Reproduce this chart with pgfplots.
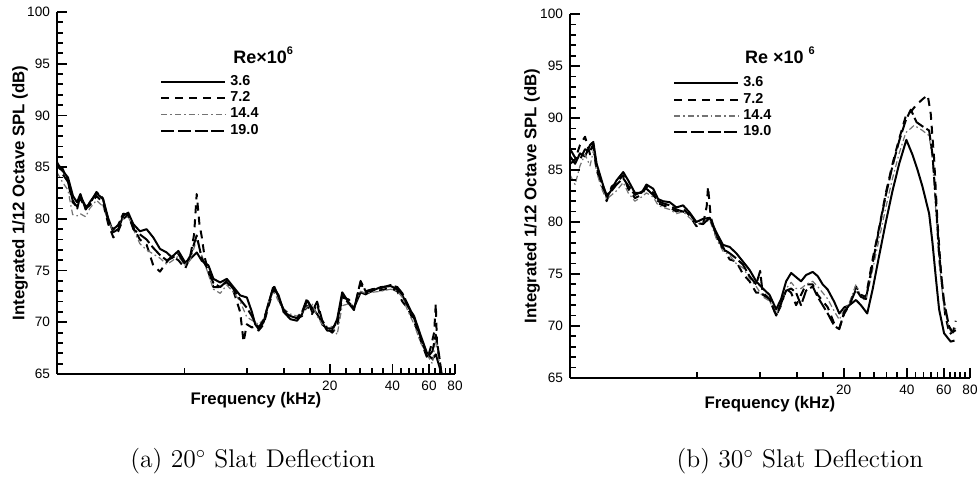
\documentclass[border=0pt]{standalone}
\usepackage{pgfplots}
\pgfplotsset{compat=1.18}
\usepackage{fontspec}
\newfontfamily\arial{Liberation Sans}

\pgfplotsset{
 slatax/.style={
  scale only axis, xmax=80, ymin=65, ymax=100,
  axis x line*=bottom, axis y line*=left,
  axis line style={line width=1pt},
  tick align=inside,
  major tick length=5pt, minor tick length=3pt,
  every tick/.style={black, line width=0.9pt},
  ytick={65,70,...,100},
  xtick={20,40,60,80}, xticklabels={20,40,60,80},
  ticklabel style={font=\arial\fontsize{6.8}{8}\selectfont},
  /pgf/number format/assume math mode=true,
  label style={font=\arial\bfseries\fontsize{8.4}{10}\selectfont},
  xlabel={Frequency (kHz)}, ylabel={Integrated 1/12 Octave SPL (dB)},
  legend style={draw=none, fill=none, anchor=north west,
    font=\arial\bfseries\fontsize{7.2}{8}\selectfont, row sep=-2.3pt, inner sep=0pt},
  legend cell align=left,
  legend image code/.code={\draw[##1] (0pt,0pt) -- (32pt,0pt);},
 },
 s36/.style={black, line width=1pt, solid, line join=round},
 s72/.style={black, line width=1pt, dash pattern=on 4pt off 3pt, line join=round},
 s144/.style={black!55, line width=0.6pt, dash pattern=on 3pt off 1.5pt on 0.8pt off 1.5pt, line join=round},
 s190/.style={black, line width=1pt, dash pattern=on 6.5pt off 1.8pt, line join=round},
}

\begin{document}
\begin{tikzpicture}

% ---------------- (a) 20 deg ----------------
\begin{semilogxaxis}[slatax, at={(28.5pt,62pt)}, anchor=south west,
  width=199pt, height=181pt, xmin=0.975,
  xlabel style={at={(axis description cs:0.5,-0.072)}, anchor=center},
  ylabel style={at={(axis description cs:-0.093,0.5)}, anchor=center},
  legend style={at={(rel axis cs:0.259,0.838)}}]
\addplot[s36] coordinates {(0.975,85.1)(1.042,84.6)(1.101,84.0)(1.164,82.2)(1.217,81.6)(1.263,82.4)(1.340,80.9)(1.401,81.6)(1.508,82.5)(1.624,81.9)(1.717,80.1)(1.816,78.7)(1.920,79.0)(2.030,80.3)(2.146,80.6)(2.268,79.5)(2.442,78.8)(2.630,79.0)(2.832,78.2)(3.050,77.1)(3.284,76.75)(3.471,76.3)(3.738,76.9)(4.025,75.8)(4.256,76.1)(4.582,76.75)(4.843,75.95)(5.215,75.5)(5.514,74.2)(5.938,73.85)(6.394,74.2)(6.885,73.4)(7.414,72.6)(7.983,72.4)(8.440,71.0)(8.758,69.8)(9.089,69.35)(9.606,70.0)(10.16,71.9)(10.74,73.4)(11.35,72.6)(12.00,71.0)(12.92,70.3)(13.91,70.15)(14.71,70.8)(15.55,72.1)(16.44,71.4)(17.38,70.8)(18.37,70.0)(19.42,69.2)(20.53,69.2)(21.70,70.3)(22.94,72.9)(24.71,71.9)(26.12,71.4)(28.12,72.9)(29.73,72.7)(32.01,73.05)(35.11,73.4)(39.23,73.5)(42.24,73.2)(44.67,72.6)(47.23,71.6)(50.85,70.6)(54.75,68.7)(58.97,66.9)(62.32,66.45)(64.67,66.9)(67.12,65.8)(68.89,65.0)};
\addlegendentry{3.6}
\addplot[s72] coordinates {(0.975,85.5)(1.04,84.3)(1.10,83.6)(1.16,81.6)(1.22,81.2)(1.26,82.0)(1.34,81.0)(1.40,81.3)(1.51,82.2)(1.62,81.6)(1.72,79.5)(1.82,78.2)(1.92,78.8)(2.03,80.0)(2.15,80.4)(2.27,79.2)(2.44,78.0)(2.63,77.5)(2.83,75.5)(3.05,74.9)(3.28,75.8)(3.47,76.4)(3.74,76.0)(4.03,75.2)(4.26,76.3)(4.45,78.5)(4.58,82.4)(4.72,79.5)(4.84,78.3)(5.0,76.3)(5.22,74.8)(5.51,73.4)(5.94,73.4)(6.39,73.9)(6.89,73.0)(7.41,71.0)(7.70,68.1)(7.98,69.8)(8.44,69.5)(8.76,69.6)(9.09,69.2)(9.61,69.8)(10.16,71.6)(10.74,73.2)(11.35,72.3)(12.0,71.0)(12.92,70.6)(13.91,70.4)(14.71,70.6)(15.55,71.6)(16.44,70.8)(17.38,71.8)(18.37,69.8)(19.42,69.4)(20.53,69.0)(21.70,69.6)(22.94,72.4)(24.71,72.2)(26.12,71.2)(28.12,73.8)(29.73,72.9)(32.01,73.0)(35.11,73.1)(39.23,73.3)(42.24,73.0)(44.67,72.0)(47.23,71.4)(50.85,70.1)(54.75,68.2)(58.97,66.5)(61.0,67.5)(63.5,69.0)(64.67,71.8)(65.5,68.0)(67.12,66.5)(68.9,65.0)};
\addlegendentry{7.2}
\addplot[s144] coordinates {(0.975,84.5)(1.04,83.5)(1.10,82.8)(1.16,80.4)(1.22,80.3)(1.26,80.5)(1.34,80.2)(1.40,81.0)(1.51,81.8)(1.62,81.2)(1.72,79.8)(1.82,78.8)(1.92,79.5)(2.03,80.0)(2.15,80.2)(2.27,79.0)(2.44,77.6)(2.63,77.0)(2.83,76.6)(3.05,76.2)(3.28,75.6)(3.47,75.9)(3.74,76.4)(4.03,75.5)(4.26,76.0)(4.58,78.0)(4.84,76.5)(5.22,74.6)(5.51,73.2)(5.94,72.8)(6.39,73.6)(6.89,72.9)(7.41,72.0)(7.98,70.5)(8.44,70.2)(8.76,70.0)(9.09,69.8)(9.61,70.3)(10.16,72.0)(10.74,73.0)(11.35,72.0)(12.0,71.3)(12.92,70.8)(13.91,70.6)(14.71,71.0)(15.55,71.5)(16.44,71.8)(17.38,70.6)(18.37,69.8)(19.42,69.6)(20.53,69.6)(21.70,68.8)(22.94,71.6)(24.71,71.8)(26.12,71.6)(28.12,73.0)(29.73,72.8)(32.01,72.9)(35.11,73.0)(39.23,73.2)(42.24,73.0)(44.67,72.4)(47.23,71.2)(50.85,69.8)(54.75,68.0)(58.97,66.8)(62.3,66.0)(64.67,68.5)(67.12,66.2)(68.9,65.0)};
\addlegendentry{14.4}
\addplot[s190] coordinates {(0.975,85.3)(1.04,84.8)(1.10,83.6)(1.16,81.8)(1.22,81.0)(1.26,82.2)(1.34,81.2)(1.40,81.4)(1.51,82.6)(1.62,82.0)(1.72,79.8)(1.82,79.0)(1.92,79.4)(2.03,80.5)(2.15,80.4)(2.27,79.0)(2.44,78.5)(2.63,78.0)(2.83,77.2)(3.05,76.5)(3.28,76.0)(3.47,76.2)(3.74,76.6)(4.03,75.6)(4.26,76.4)(4.58,78.4)(4.84,76.2)(5.22,75.0)(5.51,73.8)(5.94,73.4)(6.39,74.0)(6.89,73.2)(7.41,72.2)(7.98,71.4)(8.44,70.6)(8.76,69.9)(9.09,69.5)(9.61,70.2)(10.16,71.8)(10.74,73.6)(11.35,72.4)(12.0,71.2)(12.92,70.6)(13.91,70.4)(14.71,71.0)(15.55,72.3)(16.44,71.0)(17.38,72.0)(18.37,70.2)(19.42,69.4)(20.53,69.4)(21.70,70.0)(22.94,72.6)(24.71,71.8)(26.12,71.2)(28.12,74.0)(29.73,73.0)(32.01,73.2)(35.11,73.3)(39.23,73.6)(42.24,73.4)(44.67,72.8)(47.23,71.8)(50.85,70.4)(54.75,68.5)(58.97,66.6)(62.3,67.2)(64.67,68.8)(67.12,66.8)(68.9,65.0)};
\addlegendentry{19.0}
\node[font=\arial\bfseries\fontsize{9}{10}\selectfont] at (rel axis cs:0.518,0.881) {Re×10\raisebox{0.9ex}{\fontsize{5.5}{6}\selectfont 6}};
\end{semilogxaxis}

% tick-only overlay for (a)
\begin{semilogxaxis}[at={(28.5pt,62pt)}, scale only axis, width=199pt, height=181pt,
  xmin=0.975, xmax=80, ymin=65, ymax=100,
  axis x line*=bottom, axis y line*=left, tick align=inside,
  major tick length=5pt, minor tick length=3pt,
  every tick/.style={black, line width=0.9pt},
  ytick={65,70,...,100}, yticklabels={},
  minor ytick={66,67,68,69,71,72,73,74,76,77,78,79,81,82,83,84,86,87,88,89,91,92,93,94,96,97,98,99},
  xtick={20,40,60,80}, xticklabels={},
  minor xtick={4,8,12,16,24,28,32,36,44,48,52,56,64,68,72,76}]
\addplot[draw=none] coordinates {(1,80)(10,70)};
\end{semilogxaxis}

% ---------------- (b) 30 deg ----------------
\begin{semilogxaxis}[slatax, at={(285pt,60pt)}, anchor=south west,
  width=200pt, height=182pt, xmin=0.993,
  xlabel style={at={(axis description cs:0.5,-0.071)}, anchor=center},
  ylabel style={at={(axis description cs:-0.095,0.5)}, anchor=center},
  legend style={at={(rel axis cs:0.2575,0.84)}}]
\addplot[s36] coordinates {(0.995,86.3)(1.05,85.6)(1.108,86.6)(1.171,86.3)(1.237,87.4)(1.282,87.7)(1.33,85.6)(1.405,84.0)(1.484,82.4)(1.568,83.1)(1.655,84.0)(1.781,84.8)(1.881,84.0)(2.024,82.8)(2.176,82.8)(2.298,83.6)(2.474,83.2)(2.612,82.2)(2.758,82.0)(2.968,81.9)(3.192,81.4)(3.434,81.6)(3.694,80.9)(3.974,80.0)(4.274,80.3)(4.598,80.4)(4.946,79.0)(5.32,77.8)(5.722,77.6)(6.156,77.0)(6.622,76.2)(7.12,75.4)(7.66,74.3)(8.242,73.6)(8.866,73.0)(9.538,71.6)(10.07,72.6)(10.64,74.3)(11.24,75.1)(11.87,74.7)(12.53,74.3)(13.24,74.9)(14.24,75.2)(15.04,74.8)(15.89,74.0)(16.79,73.5)(18.06,72.3)(19.07,71.2)(20.15,71.8)(21.28,72.0)(22.89,72.5)(24.18,72.0)(25.9,71.2)(27.47,73.5)(29.55,76.8)(31.78,80.0)(34.19,83.0)(36.78,85.6)(39.8,87.9)(42.5,86.5)(45.0,85.0)(47.5,83.4)(51.1,80.8)(53.0,78.0)(54.9,74.8)(57.0,71.6)(60.2,69.3)(64.7,68.5)(67.5,68.6)};
\addlegendentry{3.6}
\addplot[s72] coordinates {(0.995,85.6)(1.05,86.0)(1.108,87.4)(1.171,88.2)(1.237,86.5)(1.282,87.2)(1.33,85.0)(1.405,83.6)(1.484,82.0)(1.568,83.4)(1.655,83.8)(1.781,84.5)(1.881,83.2)(2.024,82.3)(2.176,82.6)(2.298,83.4)(2.474,82.8)(2.612,81.8)(2.758,81.6)(2.968,81.4)(3.192,81.0)(3.434,81.3)(3.694,80.6)(3.974,79.6)(4.274,79.8)(4.45,81.5)(4.516,83.4)(4.65,80.5)(4.946,78.6)(5.32,77.6)(5.722,76.4)(6.156,76.2)(6.622,75.0)(7.12,74.3)(7.66,73.2)(8.242,73.2)(8.866,72.6)(9.538,71.0)(10.07,72.0)(10.64,73.6)(11.24,73.2)(11.87,72.0)(12.53,73.0)(13.24,74.0)(14.24,74.0)(15.04,73.0)(15.89,72.4)(16.79,71.8)(18.06,70.2)(19.07,69.8)(20.15,71.2)(21.28,72.0)(22.89,73.8)(24.18,73.0)(25.53,72.8)(27.47,76.4)(29.55,79.5)(31.78,82.8)(34.19,85.6)(36.78,88.0)(39.57,90.2)(41.79,90.6)(44.14,91.2)(47.48,91.8)(50.3,92.2)(52.0,90.4)(54.0,86.0)(56.0,80.0)(58.5,74.5)(61.0,71.0)(64.0,69.2)(66.5,69.5)(68.4,70.5)};
\addlegendentry{7.2}
\addplot[s144] coordinates {(0.995,84.5)(1.05,83.6)(1.108,85.4)(1.171,86.5)(1.237,85.4)(1.282,86.8)(1.33,84.8)(1.405,83.2)(1.484,82.2)(1.568,82.6)(1.655,83.0)(1.781,83.8)(1.881,82.8)(2.024,82.0)(2.176,82.4)(2.298,82.8)(2.474,82.4)(2.612,81.6)(2.758,81.4)(2.968,81.2)(3.192,80.8)(3.434,81.0)(3.694,80.4)(3.974,79.8)(4.274,79.9)(4.598,80.2)(4.946,78.4)(5.32,77.2)(5.722,76.8)(6.156,76.0)(6.622,75.6)(7.12,74.6)(7.66,73.8)(8.242,72.8)(8.866,72.4)(9.538,71.2)(10.07,72.0)(10.64,73.6)(11.24,74.2)(11.87,73.6)(12.53,73.6)(13.24,74.0)(14.24,74.3)(15.04,73.8)(15.89,73.2)(16.79,72.6)(18.06,71.4)(19.07,70.6)(20.15,71.6)(21.28,72.2)(22.89,74.0)(24.18,72.8)(25.53,72.4)(27.47,75.4)(29.55,78.4)(31.78,81.4)(34.19,84.2)(36.78,86.6)(39.57,88.6)(41.79,89.0)(43.34,89.3)(47.48,88.8)(51.08,88.3)(53.0,86.0)(55.0,81.0)(57.0,76.0)(60.0,72.0)(63.5,69.8)(66.0,69.2)(68.4,69.8)};
\addlegendentry{14.4}
\addplot[s190] coordinates {(0.995,87.0)(1.05,86.2)(1.108,86.0)(1.171,87.0)(1.237,86.8)(1.282,87.5)(1.33,85.2)(1.405,83.8)(1.484,82.6)(1.568,83.0)(1.655,83.6)(1.781,84.2)(1.881,83.5)(2.024,82.6)(2.176,82.9)(2.298,83.2)(2.474,82.6)(2.612,82.0)(2.758,81.8)(2.968,81.6)(3.192,81.2)(3.434,81.0)(3.694,80.8)(3.974,79.9)(4.274,79.8)(4.598,80.4)(4.946,78.8)(5.32,77.4)(5.722,77.0)(6.156,76.5)(6.622,75.9)(7.12,74.8)(7.66,74.0)(8.0,75.3)(8.242,73.0)(8.866,72.6)(9.538,71.0)(10.07,72.2)(10.64,73.4)(11.24,73.6)(11.87,73.2)(12.53,72.0)(13.24,73.4)(14.24,73.8)(15.04,72.8)(15.89,72.0)(16.79,71.2)(18.06,70.0)(19.07,69.7)(20.15,71.4)(21.28,72.0)(22.89,73.5)(24.18,72.8)(25.53,72.6)(27.47,76.0)(29.55,79.4)(31.78,82.6)(34.19,85.4)(36.78,87.8)(39.57,89.8)(41.79,90.8)(44.5,89.6)(47.48,89.2)(51.08,88.8)(53.0,86.5)(55.0,82.0)(57.0,77.0)(60.0,72.5)(63.5,70.0)(66.0,69.4)(68.4,69.6)};
\addlegendentry{19.0}
\node[font=\arial\bfseries\fontsize{9}{10}\selectfont] at (rel axis cs:0.525,0.887) {Re ×10 \raisebox{0.9ex}{\fontsize{5.5}{6}\selectfont 6}};
\end{semilogxaxis}

% tick-only overlay for (b)
\begin{semilogxaxis}[at={(285pt,60pt)}, scale only axis, width=200pt, height=182pt,
  xmin=0.993, xmax=80, ymin=65, ymax=100,
  axis x line*=bottom, axis y line*=left, tick align=inside,
  major tick length=5pt, minor tick length=3pt,
  every tick/.style={black, line width=0.9pt},
  ytick={65,70,...,100}, yticklabels={},
  minor ytick={66,67,68,69,71,72,73,74,76,77,78,79,81,82,83,84,86,87,88,89,91,92,93,94,96,97,98,99},
  xtick={20,40,60,80}, xticklabels={},
  minor xtick={4,8,12,16,24,28,32,36,44,48,52,56,64,68,72,76}]
\addplot[draw=none] coordinates {(1,80)(10,70)};
\end{semilogxaxis}

\node[font=\fontsize{12.8}{15}\selectfont] at (126.5pt,18.5pt) {(a) 20$^\circ$ Slat Deflection};
\node[font=\fontsize{12.8}{15}\selectfont] at (400pt,18.5pt) {(b) 30$^\circ$ Slat Deflection};
\pgfresetboundingbox
\path[use as bounding box] (0,0) rectangle (490pt,249pt);
\end{tikzpicture}
\end{document}
